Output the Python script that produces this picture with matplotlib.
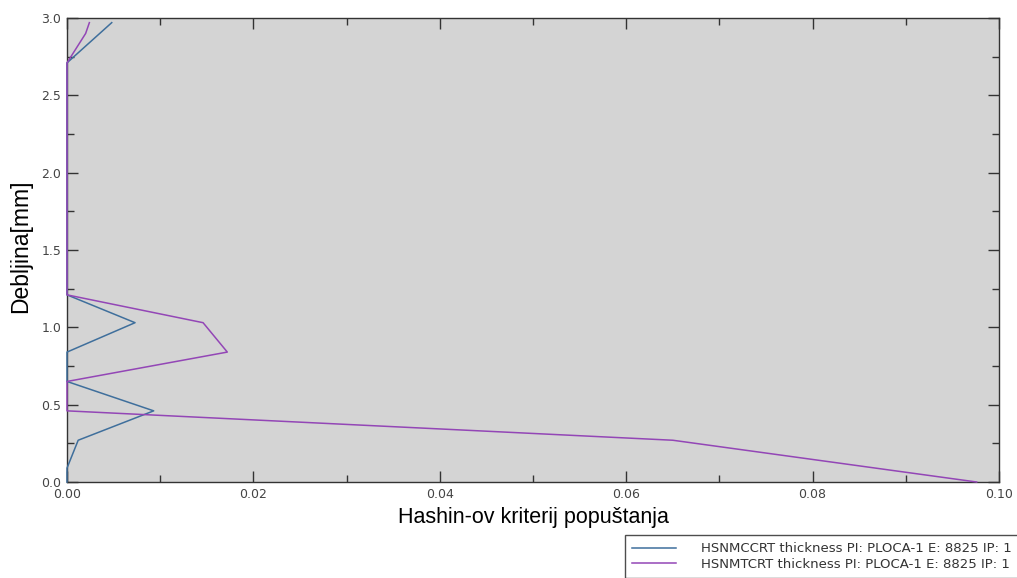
import matplotlib
matplotlib.use("Agg")
import matplotlib.pyplot as plt
from matplotlib.ticker import MultipleLocator

# thickness positions [mm] and Hashin criterion values
thick_mc = [0.0, 0.09, 0.27, 0.46, 0.65, 0.84, 1.03, 1.21, 2.71, 2.97]
hsnmccrt = [0.0, 0.0, 0.0012, 0.0093, 0.0, 0.0, 0.0073, 0.0, 0.0, 0.0048]

thick_mt = [0.0, 0.27, 0.46, 0.65, 0.84, 1.03, 1.21, 2.71, 2.90, 2.97]
hsnmtcrt = [0.0976, 0.0650, 0.0, 0.0, 0.0172, 0.0146, 0.0, 0.0, 0.0020, 0.0024]

labels = ["HSNMCCRT thickness PI: PLOCA-1 E: 8825 IP: 1",
          "HSNMTCRT thickness PI: PLOCA-1 E: 8825 IP: 1"]

W, H = 1017, 578
fig = plt.figure(figsize=(W / 100, H / 100), dpi=100)
ax = fig.add_axes([67 / W, (H - 482) / H, 932 / W, 464 / H])
ax.set_facecolor("#d4d4d4")

l1, = ax.plot(hsnmccrt, thick_mc, color="#3f6f9c", lw=1.1, zorder=3, clip_on=False)
l2, = ax.plot(hsnmtcrt, thick_mt, color="#9346b6", lw=1.1, zorder=3, clip_on=False)

ax.set_xlim(0, 0.1)
ax.set_ylim(0, 3.0)
ax.xaxis.set_major_locator(MultipleLocator(0.02))
ax.xaxis.set_minor_locator(MultipleLocator(0.01))
ax.yaxis.set_major_locator(MultipleLocator(0.5))
ax.yaxis.set_minor_locator(MultipleLocator(0.25))
ax.xaxis.set_major_formatter(lambda v, p: "%.2f" % v)
ax.yaxis.set_major_formatter(lambda v, p: "%.1f" % v)
ax.tick_params(which="both", direction="in", top=True, right=True,
               color="#333333", width=1)
ax.tick_params(which="major", length=8, labelsize=9, labelcolor="#444444", pad=4)
ax.tick_params(which="minor", length=5)
for s in ax.spines.values():
    s.set_color("#333333")
    s.set_linewidth(1)

ax.set_xlabel("Hashin-ov kriterij popuštanja", family="Liberation Sans", fontsize=15.5)
ax.set_ylabel("Debljina[mm]", family="Liberation Sans", fontsize=16.5)
ax.xaxis.set_label_coords(0.5, -0.054)
ax.yaxis.set_label_coords(-0.037, 0.508)

leg = fig.legend([l1, l2], labels, loc="upper left",
                 bbox_to_anchor=(625 / W, 1 - 535 / H), frameon=True,
                 fancybox=False, edgecolor="#222222", fontsize=9.5,
                 handlelength=3.3, handletextpad=1.9, borderpad=0.55,
                 labelspacing=0.2, borderaxespad=0)
leg.get_frame().set_linewidth(1)
for t in leg.get_texts():
    t.set_color("#333333")

fig.savefig("out.png", dpi=100)
